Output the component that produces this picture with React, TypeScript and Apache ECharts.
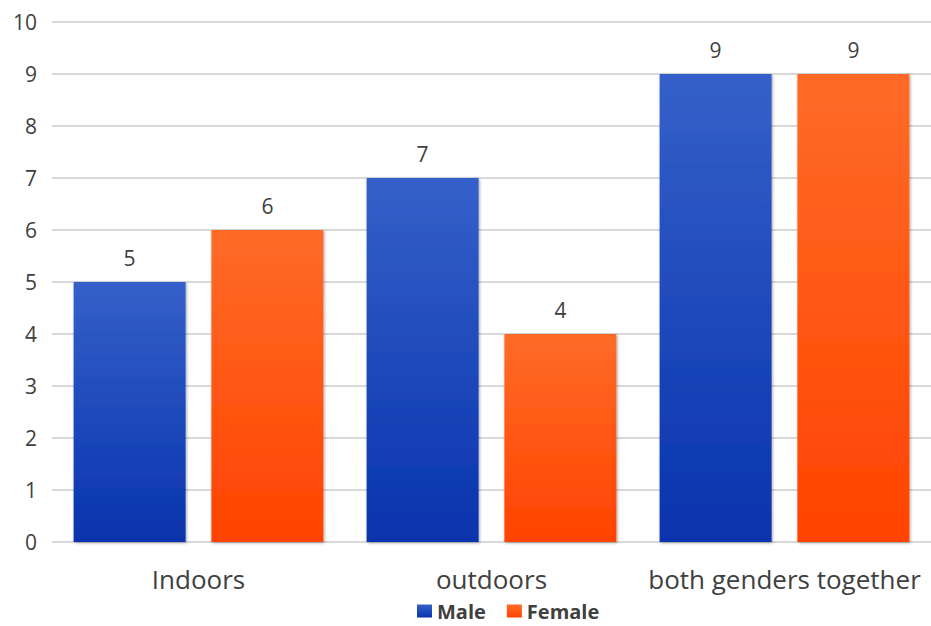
import React, { useEffect, useRef } from "react";
import * as echarts from "echarts";

const categories = ["Indoors", "outdoors", "both genders together"];
const maleValues = [5, 7, 9];
const femaleValues = [6, 4, 9];
const seriesNames = ["Male", "Female"];

const FONT = "'Open Sans', 'Noto Sans', sans-serif";

export default function App() {
  const ref = useRef<HTMLDivElement>(null);
  useEffect(() => {
    document.body.style.margin = "0";
    if (!ref.current) return;
    const chart = echarts.init(ref.current, null, { renderer: "svg" });
    const grad = (top: string, bottom: string) =>
      new echarts.graphic.LinearGradient(0, 0, 0, 1, [
        { offset: 0, color: top },
        { offset: 1, color: bottom },
      ]);
    const itemShadow = {
      shadowBlur: 3,
      shadowColor: "rgba(0,0,0,0.35)",
      shadowOffsetX: 1,
      shadowOffsetY: 1,
    };
    const label = {
      show: true,
      position: "top" as const,
      distance: 14,
      color: "#404040",
      fontSize: 21,
      fontFamily: FONT,
    };
    chart.setOption({
      animation: false,
      backgroundColor: "#ffffff",
      grid: { left: 52, top: 22, bottom: 84, right: -10, containLabel: false },
      legend: {
        top: 601,
        left: 417,
        padding: 0,
        itemWidth: 15,
        itemHeight: 13,
        itemGap: 21,
        icon: "rect",
        textStyle: {
          fontSize: 20,
          lineHeight: 20,
          fontWeight: "bold",
          color: "#404040",
          fontFamily: FONT,
        },
        data: seriesNames,
      },
      xAxis: {
        type: "category",
        data: categories,
        axisLine: { show: false },
        axisTick: { show: false },
        axisLabel: { fontSize: 26, color: "#404040", fontFamily: FONT, margin: 24, interval: 0 },
      },
      yAxis: {
        type: "value",
        min: 0,
        max: 10,
        interval: 1,
        axisLine: { show: false },
        axisTick: { show: false },
        axisLabel: { fontSize: 21, color: "#404040", fontFamily: FONT, margin: 15 },
        splitLine: { lineStyle: { color: "#d9d9d9", width: 2 } },
      },
      series: [
        {
          name: seriesNames[0],
          type: "bar",
          data: maleValues,
          barWidth: 112,
          barGap: "23%",
          label,
          itemStyle: { color: grad("#3560c9", "#0833ad"), ...itemShadow },
        },
        {
          name: seriesNames[1],
          type: "bar",
          data: femaleValues,
          barWidth: 112,
          barGap: "23%",
          label,
          itemStyle: { color: grad("#ff6b28", "#ff4300"), ...itemShadow },
        },
      ],
    });
    return () => chart.dispose();
  }, []);
  return <div ref={ref} style={{ width: 931, height: 626 }} />;
}
